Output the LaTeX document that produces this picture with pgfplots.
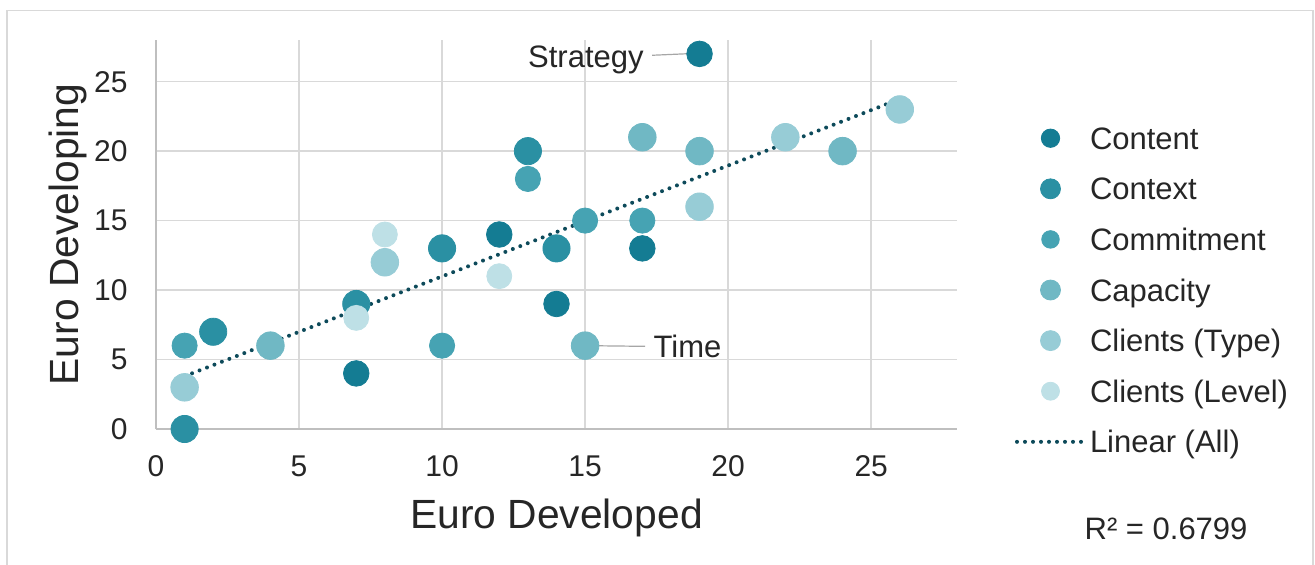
\documentclass[border=0pt]{standalone}
\usepackage{fontspec}
\setmainfont{Liberation Sans}
\usepackage{pgfplots}
\pgfplotsset{compat=1.18}

\definecolor{cContent}{HTML}{147C93}
\definecolor{cContext}{HTML}{2A90A3}
\definecolor{cCommit}{HTML}{46A3B3}
\definecolor{cCapacity}{HTML}{70B8C4}
\definecolor{cType}{HTML}{97CCD6}
\definecolor{cLevel}{HTML}{BEE0E6}
\definecolor{cTrend}{HTML}{0D4A5A}
\definecolor{txt}{HTML}{262626}
\definecolor{gridc}{HTML}{D9D9D9}
\definecolor{axisc}{HTML}{BFBFBF}
\definecolor{leader}{HTML}{A6A6A6}

\newcommand{\fs}{\fontsize{15}{18}\selectfont}
\newcommand{\fl}{\fontsize{15.5}{18}\selectfont}

\pgfplotsset{
  dotlegendimg/.style={legend image code/.code={\draw[##1] plot coordinates {(16.75pt,0pt)};}},
  trendlegendimg/.style={legend image code/.code={\draw[##1] (0pt,0pt) -- (33.5pt,0pt);}},
}

\begin{document}
\begin{tikzpicture}[x=1pt,y=1pt]
% 1 px of the reference = 0.5pt
\path[use as bounding box] (0,0) rectangle (657.5,-282.5);
\draw[line width=0.75pt, color=gridc] (3.5,-282.5) -- (3.5,-5.25) -- (656.5,-5.25) -- (656.5,-282.5);
\begin{axis}[
    at={(78pt,-214.5pt)}, anchor=south west,
    width=400.5pt, height=194.5pt, scale only axis,
    xmin=0, xmax=28, ymin=0, ymax=28,
    xtick={0,5,...,25}, ytick={0,5,...,25},
    grid=major,
    major grid style={line width=0.75pt, color=gridc},
    axis lines*=left,
    axis line style={-, line width=0.75pt, color=axisc},
    major tick length=0pt,
    clip=false,
    tick label style={font=\fs, text=txt},
    /pgf/number format/assume math mode=true,
    xticklabel style={anchor=center, yshift=-18.5pt},
    yticklabel style={anchor=east, inner sep=0pt, xshift=-14pt},
    xlabel={Euro Developed}, ylabel={Euro Developing},
    label style={font=\fontsize{20.4}{24}\selectfont, text=txt},
    xlabel style={at={(axis description cs:0.5,-0.229)}, anchor=center},
    ylabel style={at={(axis description cs:-0.110,0.5)}, anchor=center},
    legend style={at={(axis description cs:1.0724,0.3573)}, anchor=west,
      draw=none, fill=none, inner sep=0pt, outer sep=0pt,
      font=\fl, text=txt, row sep=11.2pt, column sep=2pt,
      nodes={inner sep=0pt, text height=12.6pt, text depth=1.5pt}},
    legend cell align=left,
    dotlegendimg,
]
\addplot[only marks, mark=*, color=cContent, mark size=6.4pt,
  legend image post style={mark size=4.6pt}]
  coordinates {(7,4) (12,14) (14,9) (17,13) (19,27)};
\addlegendentry{Content}
\addplot[only marks, mark=*, color=cContext, mark size=6.8pt,
  legend image post style={mark size=5pt}]
  coordinates {(1,0) (2,7) (7,9) (10,13) (13,20) (14,13)};
\addlegendentry{Context}
\addplot[only marks, mark=*, color=cCommit, mark size=6.3pt,
  legend image post style={mark size=4.4pt}]
  coordinates {(1,6) (10,6) (13,18) (15,15) (17,15)};
\addlegendentry{Commitment}
\addplot[only marks, mark=*, color=cCapacity, mark size=6.9pt,
  legend image post style={mark size=5pt}]
  coordinates {(4,6) (15,6) (17,21) (19,20) (24,20)};
\addlegendentry{Capacity}
\addplot[only marks, mark=*, color=cType, mark size=6.9pt,
  legend image post style={mark size=5pt}]
  coordinates {(1,3) (8,12) (19,16) (22,21) (26,23)};
\addlegendentry{Clients (Type)}
\addplot[only marks, mark=*, color=cLevel, mark size=6.25pt,
  legend image post style={mark size=4.5pt}]
  coordinates {(7,8) (8,14) (12,11)};
\addlegendentry{Clients (Level)}
\addplot[no marks, color=cTrend, line width=2pt, line cap=round,
  dash pattern=on 0pt off 4pt, trendlegendimg]
  coordinates {(1,3.8) (26,23.75)};
\addlegendentry{Linear (All)}

% data labels with leader lines
\draw[leader, line width=0.6pt] (axis cs:17.34,26.9) -- (axis cs:19,27.05);
\node[anchor=base east, inner sep=0pt, font=\fl, text=txt] at (axis cs:17.06,26.03) {Strategy};
\draw[leader, line width=0.6pt] (axis cs:15,6) -- (axis cs:17.1,5.95);
\node[anchor=base west, inner sep=0pt, font=\fl, text=txt] at (axis cs:17.38,5.12) {Time};

\node[anchor=center, inner sep=0pt, font=\fl, text=txt] at (axis description cs:1.261,-0.257) {R² = 0.6799};
\end{axis}
\end{tikzpicture}
\end{document}
